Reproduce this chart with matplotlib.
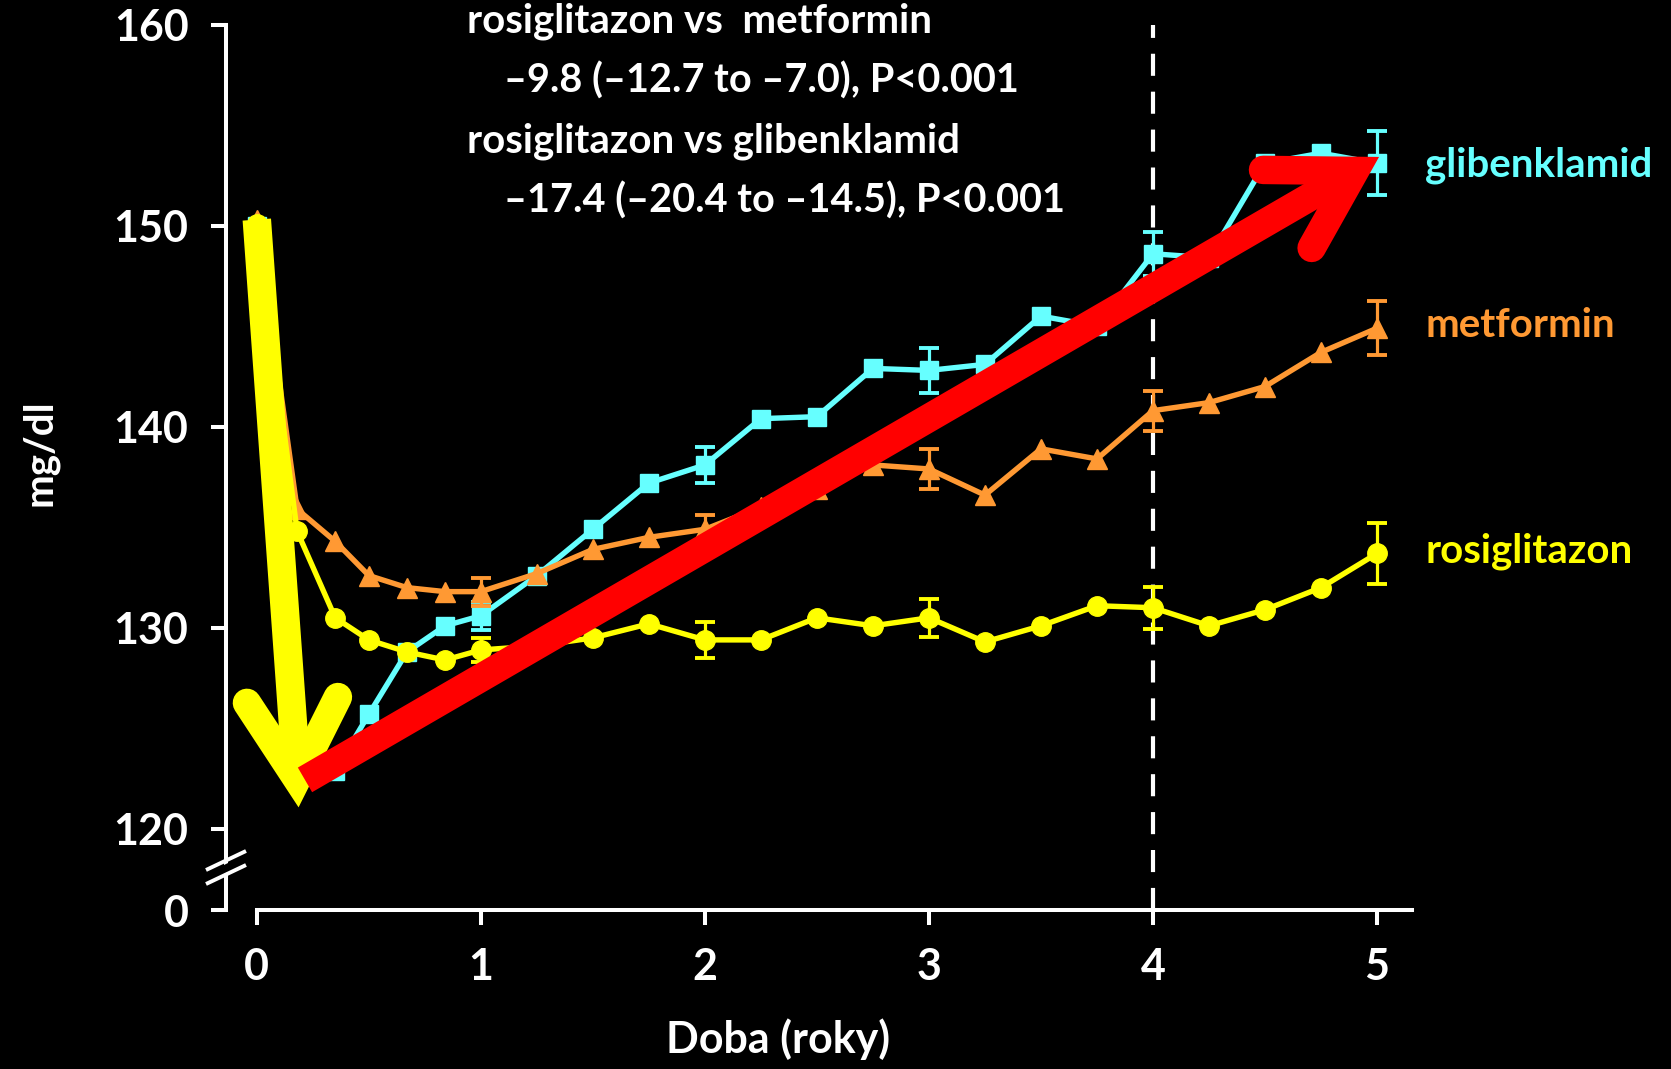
import matplotlib
matplotlib.use("Agg")
import matplotlib.pyplot as plt
from matplotlib.lines import Line2D
from matplotlib.patches import Polygon

# ---- data -------------------------------------------------------------
years = [0.0, 0.18, 0.35, 0.5, 0.67, 0.84, 1.0, 1.25, 1.5, 1.75, 2.0, 2.25,
         2.5, 2.75, 3.0, 3.25, 3.5, 3.75, 4.0, 4.25, 4.5, 4.75, 5.0]

rosiglitazon = [150.1, 134.8, 130.5, 129.4, 128.8, 128.4, 128.9, 129.1, 129.5,
                130.2, 129.4, 129.4, 130.5, 130.1, 130.5, 129.3, 130.1, 131.1,
                131.0, 130.1, 130.9, 132.0, 133.7]
metformin = [150.3, 135.9, 134.3, 132.6, 132.0, 131.8, 131.8, 132.7, 133.9,
             134.5, 134.9, 136.0, 136.9, 138.1, 137.9, 136.6, 138.9, 138.4,
             140.8, 141.2, 142.0, 143.7, 144.9]
glibenklamid = [150.0, 124.5, 122.9, 125.7, 128.8, 130.1, 130.6, 132.6, 134.9,
                137.2, 138.1, 140.4, 140.5, 142.9, 142.8, 143.1, 145.5, 145.0,
                148.6, 148.4, 153.1, 153.6, 153.1]

err_years = [1.0, 2.0, 3.0, 4.0, 5.0]
rosiglitazon_err = [0.6, 0.9, 0.95, 1.05, 1.5]
metformin_err = [0.7, 0.7, 1.0, 1.0, 1.35]
glibenklamid_err = [0.7, 0.9, 1.1, 1.1, 1.6]

y_ticks = [120, 130, 140, 150, 160]
x_ticks = [0, 1, 2, 3, 4, 5]
y_zero_pos = 115.97          # where the "0" of the broken axis sits

series_names = ["glibenklamid", "metformin", "rosiglitazon"]

annotation_lines = [
    "rosiglitazon vs  metformin",
    "\u20139.8 (\u201312.7 to \u20137.0), P<0.001",
    "rosiglitazon vs glibenklamid",
    "\u201317.4 (\u201320.4 to \u201314.5), P<0.001",
]

# ---- style --------------------------------------------------------------
CYAN = "#66FFFF"
ORANGE = "#FF9933"
YELLOW = "#FFFF00"
RED = "#FF0000"
FONT = ["Lato", "DejaVu Sans"]
FS = 29
TICK_FS = 31

W, H = 1671, 1069
fig = plt.figure(figsize=(W / 100, H / 100), dpi=100, facecolor="black")

ax_l, ax_r, ax_t, ax_b = 226, 1412, 24.5, 910
ax = fig.add_axes([ax_l / W, 1 - ax_b / H, (ax_r - ax_l) / W, (ax_b - ax_t) / H])
ax.set_facecolor("black")
ax.set_xlim(-0.1375, 5.156)
ax.set_ylim(y_zero_pos, 160)

for side in ("top", "right"):
    ax.spines[side].set_visible(False)
for side in ("left", "bottom"):
    ax.spines[side].set_color("white")
    ax.spines[side].set_linewidth(2.9)
ax.spines["bottom"].set_bounds(0, 5.156)

ax.set_yticks([y_zero_pos] + y_ticks)
ax.set_yticklabels(["0"] + [str(v) for v in y_ticks])
ax.set_xticks(x_ticks)
ax.set_xticklabels([str(v) for v in x_ticks])
ax.tick_params(axis="both", colors="white", length=11, width=2.9)
ax.tick_params(axis="y", pad=16)
ax.tick_params(axis="x", pad=16)
for lab in ax.get_xticklabels() + ax.get_yticklabels():
    lab.set_family(FONT)
    lab.set_fontweight("bold")
    lab.set_fontsize(TICK_FS)
    lab.set_color("white")

# dashed reference line at year 4
ax.axvline(4, color="white", lw=3.0, dashes=(5.3, 3.8), zorder=1)

# ---- series ---------------------------------------------------------------
def draw_series(vals, errs, color, marker, ms, z):
    ax.plot(years, vals, color=color, lw=3.9, marker=marker, ms=ms,
            mec=color, mfc=color, zorder=z)
    err_vals = [vals[years.index(t)] for t in err_years]
    ax.errorbar(err_years, err_vals, yerr=errs, fmt="none", ecolor=color,
                elinewidth=2.3, capsize=7, capthick=2.8, zorder=z)

draw_series(glibenklamid, glibenklamid_err, CYAN, "s", 13.5, 3)
draw_series(metformin, metformin_err, ORANGE, "^", 14, 4)
draw_series(rosiglitazon, rosiglitazon_err, YELLOW, "o", 14, 5)

# ---- highlight arrows -------------------------------------------------------
ARROW_LW = 20.5

def thick_arrow(tail, vertex, barb_a, barb_b, color, z):
    ax.add_line(Line2D([tail[0], vertex[0]], [tail[1], vertex[1]], color=color,
                       lw=ARROW_LW, solid_capstyle="butt", zorder=z, clip_on=False))
    ax.add_line(Line2D([barb_a[0], vertex[0], barb_b[0]],
                       [barb_a[1], vertex[1], barb_b[1]], color=color,
                       lw=ARROW_LW, solid_capstyle="round",
                       solid_joinstyle="miter", zorder=z, clip_on=False))

thick_arrow((0.0, 150.3), (0.179, 122.49), (-0.044, 126.27), (0.362, 126.56),
            YELLOW, 8)
thick_arrow((0.215, 122.44), (4.901, 152.72), (4.491, 152.77), (4.708, 148.89),
            RED, 9)

# ---- axis break on y ---------------------------------------------------------
def px(x, y):
    return (x / W, 1 - y / H)

gap = Polygon([px(206, 874), px(246, 854), px(246, 863), px(206, 883)],
              closed=True, transform=fig.transFigure, facecolor="black",
              edgecolor="none", zorder=20)
fig.add_artist(gap)
for y0 in (870, 884):
    fig.add_artist(Line2D([206 / W, 246 / W], [1 - y0 / H, 1 - (y0 - 19) / H],
                          transform=fig.transFigure, color="white", lw=2.8,
                          solid_capstyle="butt", zorder=21))

# ---- texts ------------------------------------------------------------------
def ftext(x, y, s, color="white", size=FS, **kw):
    fig.text(x / W, 1 - y / H, s, color=color, family=FONT, fontweight="bold",
             fontsize=size, **kw)

ftext(467, 33, annotation_lines[0], va="baseline")
ftext(504, 93, annotation_lines[1], va="baseline", size=28.5)
ftext(467, 152, annotation_lines[2], va="baseline")
ftext(504, 213, annotation_lines[3], va="baseline", size=28.5)

ftext(1425, 177, series_names[0], color=CYAN, va="baseline")
ftext(1426, 337, series_names[1], color=ORANGE, va="baseline")
ftext(1426, 563, series_names[2], color=YELLOW, va="baseline")

ftext(778, 1039, "Doba (roky)", ha="center", va="center", size=31)
ftext(40, 453, "mg/dl", ha="center", va="center", rotation=90)

fig.savefig("out.png", dpi=100, facecolor="black")
